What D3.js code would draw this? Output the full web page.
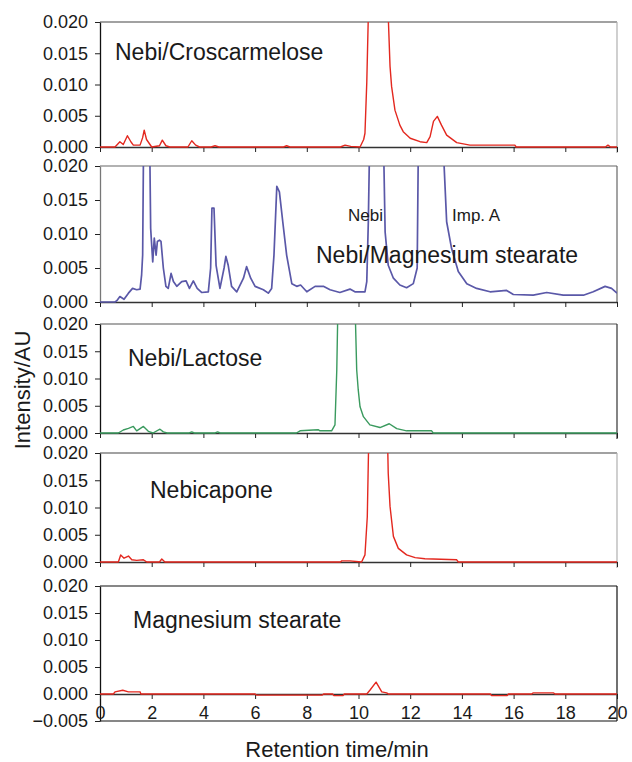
<!DOCTYPE html>
<html>
<head>
<meta charset="utf-8">
<script src="https://cdn.jsdelivr.net/npm/d3@7"></script>
<style>
  body { margin: 0; background: #fff; }
  text { font-family: "Liberation Sans", Arial, sans-serif; fill: #1a1a1a; }
</style>
</head>
<body>
<div id="chart"></div>
<script>
// retention time (min), intensity (AU)
let croscarmelose = [
  [0, 0], [0.58, 0], [0.77, 0.00085], [0.9, 0.0004], [1.06, 0.0018], [1.2, 0.0008], [1.29, 0.0003],
  [1.55, 0.0003], [1.65, 0.0015], [1.71, 0.0027], [1.8, 0.0012], [2.0, 0], [2.3, 0.0002], [2.41, 0.0011],
  [2.55, 0.0002], [2.7, 0], [3.4, 0], [3.55, 0.001], [3.7, 0.0003], [3.85, 0], [4.3, 0], [4.45, 0.0002],
  [4.6, 0], [7.1, 0], [7.22, 0.0002], [7.35, 0], [9.3, 0], [9.48, 0.0003], [9.7, 0.0001], [10.06, 0],
  [10.2, 0.0012], [10.25, 0.0022], [10.32, 0.0103], [10.38, 0.021], [10.45, 0.04], [11.1, 0.04],
  [11.15, 0.021], [11.22, 0.0129], [11.28, 0.0097], [11.41, 0.0059], [11.6, 0.0035], [11.73, 0.00245],
  [12.0, 0.0014], [12.38, 0.00085], [12.64, 0.0007], [12.77, 0.00165], [12.9, 0.0041], [13.05, 0.0049],
  [13.21, 0.0035], [13.41, 0.0019], [13.8, 0.0007], [14.31, 0.0003], [16.05, 0.0003], [16.1, 0],
  [19.55, 0], [19.65, 0.0003], [19.75, 0], [20, 0]
];
let magnesiumMix = [
  [0, 0], [0.58, 0], [0.65, 0.0002], [0.77, 0.0008], [0.93, 0.0004], [1.1, 0.0013], [1.26, 0.002],
  [1.42, 0.0018], [1.55, 0.0019], [1.61, 0.004], [1.65, 0.0069], [1.68, 0.021], [1.7, 0.04], [1.9, 0.04],
  [1.93, 0.021], [1.96, 0.0108], [2.04, 0.0059], [2.1, 0.0094], [2.17, 0.0069], [2.22, 0.0089], [2.3, 0.0091],
  [2.36, 0.0089], [2.45, 0.005], [2.55, 0.0023], [2.64, 0.002], [2.75, 0.0042], [2.84, 0.003], [2.97, 0.0023],
  [3.16, 0.003], [3.33, 0.0031], [3.46, 0.002], [3.61, 0.0031], [3.76, 0.002], [3.93, 0.0014], [4.19, 0.0015],
  [4.28, 0.005], [4.33, 0.0138], [4.41, 0.0138], [4.49, 0.0054], [4.64, 0.002], [4.8, 0.005], [4.87, 0.0067],
  [4.96, 0.0054], [5.09, 0.0023], [5.29, 0.0015], [5.55, 0.0035], [5.67, 0.0052], [5.83, 0.0035], [6.0, 0.0023],
  [6.32, 0.0018], [6.51, 0.0013], [6.64, 0.002], [6.73, 0.0069], [6.84, 0.017], [6.94, 0.0162], [7.07, 0.0118],
  [7.22, 0.0069], [7.42, 0.0027], [7.61, 0.0023], [7.76, 0.0025], [8.0, 0.0015], [8.32, 0.0023], [8.64, 0.0023],
  [8.9, 0.0018], [9.28, 0.0014], [9.67, 0.0019], [9.86, 0.0015], [10.25, 0.0015], [10.32, 0.003],
  [10.38, 0.0118], [10.42, 0.021], [10.45, 0.04], [10.95, 0.04], [10.98, 0.021], [11.03, 0.0103],
  [11.15, 0.0054], [11.35, 0.0035], [11.6, 0.0025], [11.86, 0.0021], [12.12, 0.0027], [12.27, 0.005],
  [12.31, 0.021], [12.34, 0.04], [13.27, 0.04], [13.3, 0.021], [13.41, 0.0118], [13.6, 0.0079], [13.86, 0.0045],
  [14.19, 0.0027], [14.57, 0.002], [15.09, 0.0015], [15.73, 0.0017], [15.99, 0.0011], [16.76, 0.001],
  [17.28, 0.0014], [17.92, 0.001], [18.7, 0.001], [19.08, 0.0015], [19.54, 0.0023], [19.79, 0.002], [20, 0.0013]
];
let lactose = [
  [0, 0], [0.71, 0], [0.9, 0.00055], [1.1, 0.00086], [1.29, 0.0012], [1.42, 0.0004], [1.68, 0.0012],
  [1.87, 0.0003], [2.05, 0], [2.32, 0.0007], [2.45, 0.0002], [2.6, 0], [3.45, 0], [3.55, 0.0002], [3.65, 0],
  [4.45, 0], [4.55, 0.0002], [4.65, 0], [7.6, 0], [7.74, 0.0004], [8.25, 0.00055], [8.45, 0.0006],
  [8.51, 0.0004], [8.96, 0.0004], [9.09, 0.0015], [9.16, 0.0116], [9.19, 0.0196], [9.22, 0.04], [9.85, 0.04],
  [9.88, 0.021], [9.93, 0.0116], [9.99, 0.0079], [10.06, 0.0048], [10.19, 0.003], [10.44, 0.0015],
  [10.83, 0.001], [11.19, 0.0017], [11.48, 0.0008], [11.86, 0.0004], [12.83, 0.0004], [12.89, 0], [20, 0]
];
let nebicapone = [
  [0, 0], [0.71, 0], [0.8, 0.0013], [0.93, 0.0007], [1.1, 0.0011], [1.23, 0.0004], [1.42, 0.0003],
  [1.68, 0.0004], [1.81, 0], [2.3, 0], [2.39, 0.00055], [2.51, 0], [9.3, 0], [9.35, 0.0002], [9.67, 0.0002],
  [10.12, 0], [10.25, 0.0013], [10.34, 0.0083], [10.39, 0.021], [10.42, 0.04], [11.1, 0.04], [11.13, 0.021],
  [11.15, 0.0163], [11.22, 0.0102], [11.35, 0.0047], [11.54, 0.0025], [11.86, 0.0013], [12.19, 0.0008],
  [12.57, 0.0006], [13.8, 0.0004], [13.86, 0], [20, 0]
];
let magnesium = [
  [0, 0], [0.52, 0], [0.58, 0.0004], [0.88, 0.0007], [1.1, 0.0004], [1.55, 0.0004], [1.58, 0], [6.0, 0],
  [6.05, -0.0002], [8.6, -0.0002], [8.65, 0], [9.0, 0], [9.05, -0.0003], [9.4, -0.0003], [9.45, 0],
  [10.32, 0], [10.44, 0.0007], [10.68, 0.0022], [10.9, 0.0004], [11.09, 0.0002], [11.15, 0], [15.1, 0],
  [15.15, -0.0003], [15.75, -0.0003], [15.8, 0], [16.7, 0], [16.75, 0.0002], [17.55, 0.0002], [17.6, 0], [20, 0]
];

let panelNames = ["Nebi/Croscarmelose", "Nebi/Magnesium stearate", "Nebi/Lactose", "Nebicapone", "Magnesium stearate"];
let timeTicks = [0, 2, 4, 6, 8, 10, 12, 14, 16, 18, 20];
let intensityTicks = [0, 0.005, 0.010, 0.015, 0.020];
let intensityTicksLast = [-0.005, 0, 0.005, 0.010, 0.015, 0.020];

class Panel {
    constructor(option) {
        for (let [key, value] of Object.entries(option)) {
            this[key] = value;
        }
        this.g = this.svg.append("g");
        this.y = d3.scaleLinear().domain(this.domain).range([this.bottom, this.top]);
        this.drawFrame();
        this.drawAxes();
        this.drawLine();
        this.drawLabels();
    }
    drawFrame() {
        let f = this.frame;
        this.g.append("line").attr("x1", x(0)).attr("x2", x(20)).attr("y1", this.top).attr("y2", this.top)
            .attr("stroke", f.top).attr("stroke-width", 1.2);
        this.g.append("line").attr("x1", x(20)).attr("x2", x(20)).attr("y1", this.top).attr("y2", this.bottom + f.ext)
            .attr("stroke", f.right).attr("stroke-width", 1.2);
        if (f.base) {
            this.g.append("line").attr("x1", x(0)).attr("x2", x(20)).attr("y1", this.bottom).attr("y2", this.bottom)
                .attr("stroke", f.base).attr("stroke-width", 1.2);
        }
    }
    drawAxes() {
        let yAxis = d3.axisLeft(this.y).tickValues(this.ticks).tickFormat(d3.format(".3f"))
            .tickSize(5).tickPadding(7).tickSizeOuter(0);
        let ya = this.g.append("g").attr("transform", `translate(${x(0)},0)`).call(yAxis);
        ya.select(".domain").attr("stroke", this.frame.left).attr("stroke-width", 1.3);
        ya.selectAll("text").style("font-size", "18px").attr("fill", "#1a1a1a");
        ya.selectAll(".tick line").attr("stroke", "#222");

        let xAxis = d3.axisBottom(x).tickValues(timeTicks).tickSize(5).tickPadding(7).tickSizeOuter(0);
        if (!this.showTime) xAxis.tickFormat("");
        let xa = this.g.append("g").attr("transform", `translate(0,${this.y(0)})`).call(xAxis);
        xa.select(".domain").attr("stroke", "#333").attr("stroke-width", 1.3);
        xa.selectAll(".tick line").attr("stroke", "#222");
        xa.selectAll("text").style("font-size", "18px").attr("fill", "#1a1a1a");
    }
    drawLine() {
        let id = "clip" + this.index;
        this.svg.append("clipPath").attr("id", id).append("rect")
            .attr("x", x(0)).attr("y", this.top).attr("width", x(20) - x(0)).attr("height", this.bottom - this.top + 30);
        let y = this.y;
        let line = d3.line().x(d => x(d[0])).y(d => y(d[1]));
        this.g.append("path").datum(this.data)
            .attr("clip-path", `url(#${id})`)
            .attr("d", line)
            .attr("fill", "none")
            .attr("stroke", this.color)
            .attr("stroke-width", this.width || 1.4)
            .attr("stroke-linejoin", "round");
    }
    drawLabels() {
        for (let l of this.labels) {
            this.g.append("text").attr("x", l[0]).attr("y", l[1]).style("font-size", l[3] + "px").text(l[2]);
        }
    }
}

let svg = d3.select("#chart").append("svg").attr("width", 632).attr("height", 762);
let x = d3.scaleLinear().domain([0, 20]).range([100, 617]);

let red = "#e3281f";
new Panel({ svg: svg, index: 1, data: croscarmelose, color: red, top: 22, bottom: 147, domain: [0, 0.02],
    ticks: intensityTicks, frame: { top: "#444", right: "#b0b0b0", left: "#111", ext: 6 },
    labels: [[115, 60, panelNames[0], 23]] });
new Panel({ svg: svg, index: 2, data: magnesiumMix, color: "#5a58a8", width: 1.7, top: 166, bottom: 302, domain: [0, 0.02],
    ticks: intensityTicks, frame: { top: "#666", right: "#666", left: "#777", ext: 0 },
    labels: [[348, 221, "Nebi", 17], [452, 221, "Imp. A", 17], [316, 263, panelNames[1], 23]] });
new Panel({ svg: svg, index: 3, data: lactose, color: "#3a9a5e", top: 324, bottom: 433, domain: [0, 0.02],
    ticks: intensityTicks, frame: { top: "#555", right: "#333", left: "#111", ext: 6 },
    labels: [[128, 366, panelNames[2], 23]] });
new Panel({ svg: svg, index: 4, data: nebicapone, color: red, top: 453, bottom: 562, domain: [0, 0.02],
    ticks: intensityTicks, frame: { top: "#444", right: "#b0b0b0", left: "#111", ext: 6 },
    labels: [[150, 498, panelNames[3], 23]] });
new Panel({ svg: svg, index: 5, data: magnesium, color: red, top: 586, bottom: 721, domain: [-0.005, 0.02],
    ticks: intensityTicksLast, showTime: true, frame: { top: "#111", right: "#111", left: "#111", base: "#111", ext: 0 },
    labels: [[133, 628, panelNames[4], 23]] });

svg.append("text").attr("transform", "translate(30,390) rotate(-90)").attr("text-anchor", "middle")
    .style("font-size", "22px").text("Intensity/AU");
svg.append("text").attr("x", 337).attr("y", 757).attr("text-anchor", "middle")
    .style("font-size", "22px").text("Retention time/min");
</script>
</body>
</html>
